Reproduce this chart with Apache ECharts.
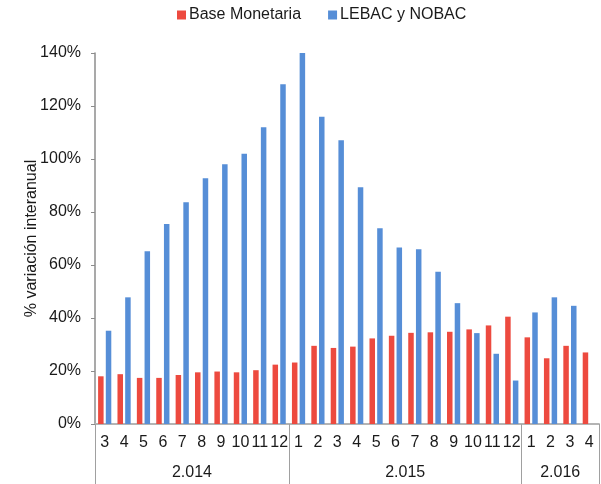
<!DOCTYPE html>
<html>
<head>
<meta charset="utf-8">
<script src="https://cdn.jsdelivr.net/npm/echarts@6/dist/echarts.min.js"></script>
<style>
  html, body { margin: 0; padding: 0; background: #fff; }
  #chart { width: 601px; height: 484px; }
</style>
</head>
<body>
<div id="chart"></div>
<script>
// Years and the months shown within each year
const years = ['2.014', '2.015', '2.016'];
const monthsByYear = [
  [3, 4, 5, 6, 7, 8, 9, 10, 11, 12],
  [1, 2, 3, 4, 5, 6, 7, 8, 9, 10, 11, 12],
  [1, 2, 3, 4]
];

// Year-on-year change, %
const baseMonetaria = [
  18.0, 18.8, 17.4, 17.4, 18.5, 19.5, 19.8, 19.5, 20.3, 22.4,
  23.2, 29.5, 28.7, 29.2, 32.3, 33.3, 34.4, 34.6, 34.8, 35.7, 37.2, 40.5,
  32.7, 24.8, 29.5, 27.0
];
const lebacNobac = [
  35.2, 47.8, 65.2, 75.5, 83.7, 92.7, 98.0, 102.0, 112.0, 128.2,
  140.1, 115.9, 107.1, 89.3, 73.9, 66.6, 65.9, 57.5, 45.6, 34.3, 26.5, 16.4,
  42.1, 47.8, 44.6, null
];

const yTicks = [0, 20, 40, 60, 80, 100, 120, 140];

// Flattened month categories plus year group boundaries / centres
const categories = [];
const boundaries = [0];
const centers = [];
monthsByYear.forEach(function (ms) {
  const start = categories.length;
  ms.forEach(function (m) { categories.push(String(m)); });
  boundaries.push(categories.length);
  centers.push(start + ms.length / 2);
});

const FONT = "'Liberation Sans', Arial, sans-serif";
const chart = echarts.init(document.getElementById('chart'));

chart.setOption({
  animation: false,
  textStyle: { fontFamily: FONT },
  legend: {
    top: 7,
    left: 177,
    padding: 0,
    itemWidth: 9,
    itemHeight: 9,
    itemGap: 27,
    icon: 'rect',
    textStyle: { fontSize: 16, color: '#1a1a1a', fontFamily: FONT, padding: [0, 0, 0, -2] },
    data: ['Base Monetaria', 'LEBAC y NOBAC']
  },
  grid: { left: 95, right: 2, top: 53, bottom: 60 },
  xAxis: [
    {
      type: 'category',
      data: categories,
      axisLine: { lineStyle: { color: '#b4b4b4', width: 2 } },
      axisTick: { show: false },
      axisLabel: {
        interval: 0,
        hideOverlap: false,
        fontSize: 16,
        color: '#1a1a1a',
        margin: 11,
        fontFamily: FONT
      }
    },
    {
      type: 'value',
      min: 0,
      max: categories.length,
      position: 'bottom',
      axisLine: { show: false },
      splitLine: { show: false },
      axisTick: {
        show: true,
        customValues: boundaries,
        length: 60,
        lineStyle: { color: '#a0a0a0', width: 1 }
      },
      axisLabel: {
        customValues: centers,
        formatter: function (v) { return years[centers.indexOf(v)]; },
        fontSize: 16,
        color: '#1a1a1a',
        margin: 41,
        fontFamily: FONT
      }
    }
  ],
  yAxis: {
    type: 'value',
    min: yTicks[0],
    max: yTicks[yTicks.length - 1],
    interval: 20,
    name: '% variación interanual',
    nameLocation: 'middle',
    nameGap: 55,
    nameMoveOverlap: false,
    nameTextStyle: { fontSize: 16, color: '#1a1a1a', fontFamily: FONT },
    axisLine: { show: true, lineStyle: { color: '#8c8c8c', width: 1.5 } },
    axisTick: { show: true, length: 4, lineStyle: { color: '#8c8c8c' } },
    splitLine: { show: false },
    axisLabel: {
      formatter: '{value}%',
      fontSize: 16,
      color: '#1a1a1a',
      margin: 14,
      fontFamily: FONT
    }
  },
  series: [
    {
      name: 'Base Monetaria',
      type: 'bar',
      xAxisIndex: 0,
      data: baseMonetaria,
      barWidth: 5.5,
      barGap: '40%',
      itemStyle: { color: '#ED4A3F' }
    },
    {
      name: 'LEBAC y NOBAC',
      type: 'bar',
      xAxisIndex: 0,
      data: lebacNobac,
      barWidth: 5.5,
      barGap: '40%',
      itemStyle: { color: '#568ED7' }
    }
  ]
});
</script>
</body>
</html>
